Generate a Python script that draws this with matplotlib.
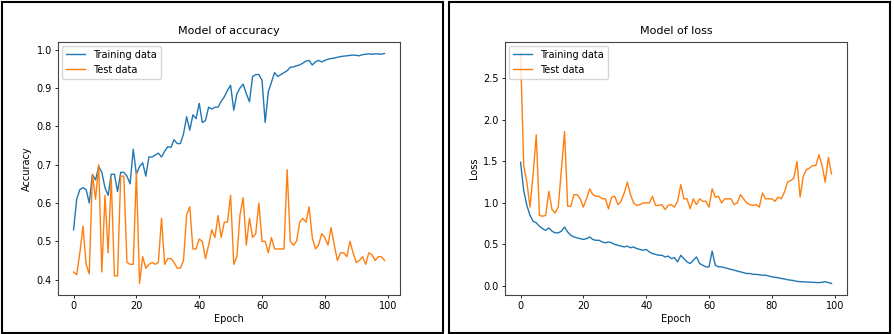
import matplotlib.pyplot as plt
from matplotlib.patches import Rectangle

# значения (эпохи 0..99)
epochs = list(range(100))

train_acc = [
    0.53, 0.61, 0.635, 0.64, 0.635, 0.60, 0.674, 0.66, 0.695, 0.68,
    0.64, 0.62, 0.675, 0.675, 0.63, 0.68, 0.68, 0.67, 0.65, 0.74,
    0.675, 0.695, 0.705, 0.67, 0.72, 0.72, 0.725, 0.73, 0.72, 0.735,
    0.747, 0.745, 0.765, 0.755, 0.755, 0.78, 0.825, 0.79, 0.83, 0.82,
    0.86, 0.81, 0.815, 0.85, 0.845, 0.85, 0.85, 0.865, 0.877, 0.894,
    0.907, 0.842, 0.885, 0.90, 0.91, 0.885, 0.864, 0.93, 0.935, 0.935,
    0.92, 0.81, 0.89, 0.915, 0.94, 0.93, 0.935, 0.94, 0.945, 0.954,
    0.955, 0.958, 0.96, 0.965, 0.97, 0.972, 0.96, 0.968, 0.972, 0.968,
    0.972, 0.975, 0.977, 0.978, 0.98, 0.982, 0.983, 0.984, 0.985, 0.986,
    0.985, 0.984, 0.987, 0.988, 0.989, 0.988, 0.989, 0.989, 0.988, 0.99,
]

test_acc = [
    0.42, 0.413, 0.47, 0.54, 0.44, 0.415, 0.675, 0.61, 0.70, 0.42,
    0.62, 0.47, 0.665, 0.41, 0.41, 0.67, 0.67, 0.445, 0.44, 0.44,
    0.68, 0.39, 0.46, 0.43, 0.44, 0.445, 0.44, 0.445, 0.56, 0.44,
    0.455, 0.455, 0.445, 0.43, 0.43, 0.45, 0.57, 0.59, 0.48, 0.48,
    0.506, 0.50, 0.455, 0.49, 0.53, 0.51, 0.567, 0.51, 0.55, 0.55,
    0.62, 0.44, 0.46, 0.57, 0.614, 0.49, 0.56, 0.51, 0.52, 0.60,
    0.50, 0.50, 0.47, 0.51, 0.48, 0.48, 0.48, 0.48, 0.687, 0.50,
    0.49, 0.50, 0.55, 0.56, 0.55, 0.59, 0.51, 0.48, 0.49, 0.52,
    0.51, 0.49, 0.536, 0.49, 0.45, 0.47, 0.47, 0.46, 0.50, 0.47,
    0.445, 0.45, 0.46, 0.44, 0.47, 0.465, 0.45, 0.46, 0.46, 0.45,
]

train_loss = [
    1.49, 1.15, 0.97, 0.85, 0.78, 0.76, 0.72, 0.69, 0.67, 0.70,
    0.66, 0.64, 0.64, 0.66, 0.71, 0.65, 0.61, 0.59, 0.58, 0.57,
    0.56, 0.57, 0.59, 0.56, 0.55, 0.55, 0.53, 0.52, 0.53, 0.52,
    0.50, 0.49, 0.48, 0.47, 0.48, 0.46, 0.47, 0.45, 0.44, 0.43,
    0.44, 0.41, 0.39, 0.38, 0.37, 0.37, 0.35, 0.36, 0.33, 0.34,
    0.29, 0.37, 0.33, 0.29, 0.27, 0.31, 0.35, 0.27, 0.25, 0.23,
    0.23, 0.42, 0.25, 0.23, 0.23, 0.22, 0.21, 0.20, 0.19, 0.18,
    0.17, 0.16, 0.15, 0.15, 0.14, 0.14, 0.135, 0.13, 0.13, 0.12,
    0.11, 0.105, 0.10, 0.09, 0.085, 0.075, 0.07, 0.065, 0.055, 0.052,
    0.05, 0.048, 0.046, 0.044, 0.042, 0.04, 0.045, 0.052, 0.04, 0.03,
]

test_loss = [
    2.80, 1.45, 1.25, 0.95, 1.35, 1.82, 0.85, 0.84, 0.85, 1.14,
    0.92, 0.88, 0.95, 1.40, 1.86, 0.96, 0.96, 1.10, 1.10, 1.05,
    0.95, 1.05, 1.17, 1.10, 1.08, 1.08, 1.05, 1.05, 0.93, 1.07,
    1.08, 0.98, 1.02, 1.12, 1.25, 1.10, 1.00, 0.97, 0.98, 1.00,
    1.00, 1.00, 1.08, 0.97, 0.97, 0.98, 0.92, 0.97, 0.98, 0.95,
    1.02, 1.22, 1.05, 1.05, 0.93, 1.05, 0.98, 1.05, 1.02, 1.02,
    0.95, 1.17, 1.07, 1.08, 1.00, 1.05, 1.05, 1.05, 0.98, 1.00,
    1.10, 1.05, 1.00, 0.98, 0.97, 0.98, 0.95, 1.12, 1.05, 1.05,
    1.05, 1.02, 1.07, 1.05, 1.13, 1.25, 1.27, 1.30, 1.50, 1.07,
    1.32, 1.40, 1.42, 1.45, 1.45, 1.58, 1.45, 1.25, 1.55, 1.35,
]

fs = 7
fig = plt.figure(figsize=(8.94, 3.34), dpi=100)

# рамки вокруг двух картинок
for x0 in (0.002, 0.502):
    fig.patches.append(Rectangle((x0, 0.004), 0.494, 0.99, transform=fig.transFigure,
                                 fill=False, edgecolor='black', linewidth=1.5))

ax1 = fig.add_axes([0.0649, 0.1168, 0.3826, 0.7575])
ax2 = fig.add_axes([0.5649, 0.1168, 0.3826, 0.7575])

panels = [
    (ax1, train_acc, test_acc, 'Model of accuracy', 'Accuracy'),
    (ax2, train_loss, test_loss, 'Model of loss', 'Loss'),
]

for ax, tr, te, title, ylabel in panels:
    ax.plot(epochs, tr, color='#1f77b4', linewidth=1.0, label='Training data')
    ax.plot(epochs, te, color='#ff7f0e', linewidth=1.0, label='Test data')
    ax.set_title(title, fontsize=8)
    ax.set_xlabel('Epoch', fontsize=fs, labelpad=2)
    ax.set_ylabel(ylabel, fontsize=fs, labelpad=3)
    ax.set_xticks([0, 20, 40, 60, 80, 100])
    ax.tick_params(labelsize=fs, length=2.5, width=0.6, pad=2)
    for s in ax.spines.values():
        s.set_linewidth(0.8)
        s.set_color('#444444')
    ax.legend(loc='upper left', fontsize=fs, handlelength=2.0, borderaxespad=0.4)

ax1.set_yticks([0.4, 0.5, 0.6, 0.7, 0.8, 0.9, 1.0])
ax2.set_yticks([0.0, 0.5, 1.0, 1.5, 2.0, 2.5])

fig.savefig('out.png', dpi=100)
